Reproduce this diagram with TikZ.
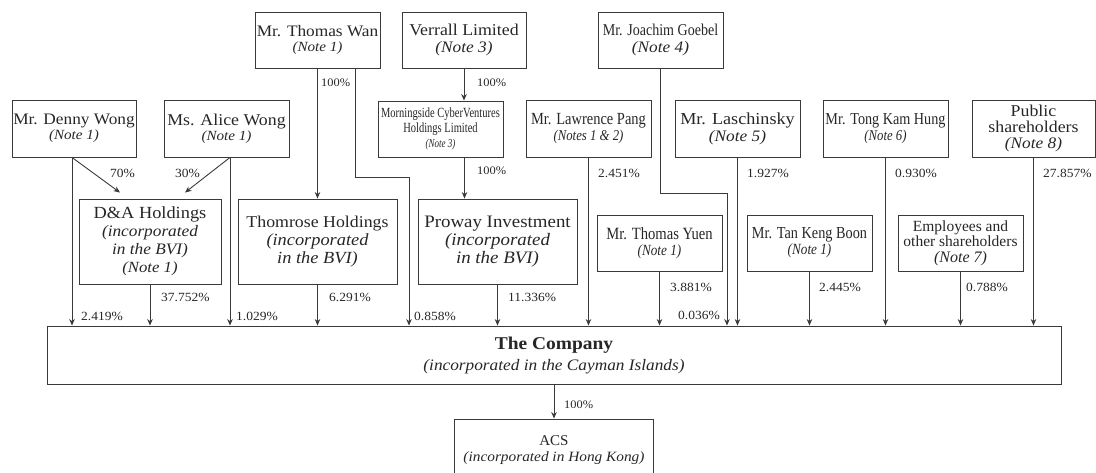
\documentclass[tikz,border=0pt]{standalone}
\usepackage{fontspec}
\setmainfont{Liberation Serif}
\newfontfamily\fwide[FakeStretch=1.08]{Liberation Serif}
\newfontfamily\fcond[FakeStretch=0.85]{Liberation Serif}
\newfontfamily\fcondd[FakeStretch=0.75]{Liberation Serif}
\usetikzlibrary{arrows.meta}
\definecolor{linec}{HTML}{3A3A3A}
\definecolor{textc}{HTML}{262626}
\newcommand{\fs}[2]{\fontsize{#1}{#2}\selectfont}
\tikzset{
  box/.style={draw=linec, line width=0.9pt, rectangle, inner sep=0pt, align=center, text=textc},
  arr/.style={draw=linec, line width=0.9pt, -{Stealth[length=6.5pt,width=5.5pt]}},
  pct/.style={inner sep=0pt, anchor=west, text=textc, font=\fwide\fs{12.5}{14}},
  pcts/.style={pct, font=\fwide\fs{11.5}{13}},
}
\begin{document}
\begin{tikzpicture}[x=1pt,y=-1pt]
\clip (0,0) rectangle (1096,472);
\useasboundingbox (0,0) rectangle (1096,472);

% top row
\node[box, minimum width=125pt, minimum height=56pt, font=\fwide\fs{16}{15}] (twan) at (317.5,40)
  {Mr. Thomas Wan\\{\itshape\fs{14}{15}(Note 1)}};
\node[box, minimum width=124pt, minimum height=56pt, font=\fwide\fs{16.5}{17}] (verrall) at (464,40)
  {Verrall Limited\\{\itshape\fs{16}{17}(Note 3)}};
\node[box, minimum width=125pt, minimum height=56pt, font=\fcond\fs{16.5}{17}] (goebel) at (660.5,40)
  {Mr. Joachim Goebel\\{\fwide\itshape\fs{16}{17}(Note 4)}};

% second row
\node[box, minimum width=124pt, minimum height=57pt, font=\fwide\fs{16}{15}] (denny) at (74,128.5)
  {Mr. Denny Wong\\{\itshape\fs{14}{15}(Note 1)}};
\node[box, minimum width=125pt, minimum height=57pt, font=\fwide\fs{16.5}{15}] (alice) at (226.5,128.5)
  {Ms. Alice Wong\\{\itshape\fs{14}{15}(Note 1)}};
\node[box, minimum width=125pt, minimum height=56pt, font=\fcondd\fs{14}{15}] (morning) at (440.5,129)
  {Morningside CyberVentures\\Holdings Limited\\{\itshape\fs{12}{15}(Note 3)}};
\node[box, minimum width=125pt, minimum height=57pt, font=\fcond\fs{17}{16}] (lawrence) at (588.5,128.5)
  {Mr. Lawrence Pang\\{\itshape\fs{15}{16}(Notes 1 \& 2)}};
\node[box, minimum width=125pt, minimum height=57pt, font=\fwide\fs{16.8}{17}] (lasch) at (737.5,128.5)
  {Mr. Laschinsky\\{\itshape\fs{16}{17}(Note 5)}};
\node[box, minimum width=125pt, minimum height=57pt, font=\fcond\fs{16.7}{16}] (tong) at (885.5,128.5)
  {Mr. Tong Kam Hung\\{\itshape\fs{15}{16}(Note 6)}};
\node[box, minimum width=123pt, minimum height=57pt, font=\fwide\fs{16.5}{16}] (public) at (1033.5,128.5)
  {Public\\shareholders\\{\itshape\fs{16}{16}(Note 8)}};

% middle row
\node[box, minimum width=142pt, minimum height=85pt, font=\fwide\fs{17}{18}] (dna) at (150,241.5)
  {D\&A Holdings\\{\itshape\fs{16}{18}(incorporated}\\{\itshape\fs{16}{18}in the BVI)}\\{\itshape\fs{15.5}{18}(Note 1)}};
\node[box, minimum width=159pt, minimum height=85pt, font=\fwide\fs{16.5}{18}] (thomrose) at (317.5,241.5)
  {Thomrose Holdings\\{\itshape\fs{17}{18}(incorporated}\\{\itshape\fs{17}{18}in the BVI)}};
\node[box, minimum width=159pt, minimum height=85pt, font=\fwide\fs{17.5}{18}] (proway) at (497.5,241.5)
  {Proway Investment\\{\itshape\fs{17.5}{18}(incorporated}\\{\itshape\fs{17.5}{18}in the BVI)}};
\node[box, minimum width=125pt, minimum height=56pt, font=\fcond\fs{17.2}{16}] (tyuen) at (659.5,243)
  {Mr. Thomas Yuen\\{\itshape\fs{15.5}{16}(Note 1)}};
\node[box, minimum width=125pt, minimum height=56pt, font=\fcond\fs{16.8}{16}] (tan) at (809.5,243)
  {Mr. Tan Keng Boon\\{\itshape\fs{15.5}{16}(Note 1)}};
\node[box, minimum width=125pt, minimum height=56pt, font=\fs{15.5}{15.5}] (emp) at (960.5,243)
  {Employees and\\other shareholders\\{\itshape\fs{16}{15.5}(Note 7)}};

% company and ACS
\node[box, minimum width=1014pt, minimum height=58pt, font=\fwide\fs{16}{21}] (company) at (554,355)
  {{\bfseries\fs{18}{21}The Company}\\{\itshape(incorporated in the Cayman Islands)}};
\node[box, minimum width=199pt, minimum height=62pt, font=\fs{15}{16.5}] (acs) at (554,450)
  {ACS\\{\fwide\itshape\fs{14.2}{16.5}(incorporated in Hong Kong)}};

% connectors
\coordinate (dn) at ([xshift=-2]denny.south);
\draw[arr] (dn) -- (dn |- company.north);
\draw[arr] (dn) -- ([xshift=-30,yshift=6]dna.north);
\coordinate (al) at ([xshift=3.5]alice.south);
\draw[arr] (al) -- (al |- company.north);
\draw[arr] (al) -- ([xshift=35,yshift=6]dna.north);
\draw[arr] (dna.south) -- (dna.south |- company.north);

\draw[arr] (twan.south) -- (thomrose.north);
\coordinate (tw2) at ([xshift=37.5]twan.south);
\coordinate (tw3) at (409,177);
\draw[arr] (tw2) -- (tw2 |- tw3) -- (tw3) -- (tw3 |- company.north);
\draw[arr] (thomrose.south) -- (thomrose.south |- company.north);

\draw[arr] (verrall.south) -- (verrall.south |- morning.north);
\coordinate (mo) at ([xshift=24]morning.south);
\draw[arr] (mo) -- (mo |- proway.north);
\draw[arr] (proway.south) -- (proway.south |- company.north);

\draw[arr] (lawrence.south) -- (lawrence.south |- company.north);
\coordinate (gb) at (727,193);
\draw[arr] (goebel.south) -- (goebel.south |- gb) -- (gb) -- (gb |- company.north);
\draw[arr] (tyuen.south) -- (tyuen.south |- company.north);
\draw[arr] (lasch.south) -- (lasch.south |- company.north);
\draw[arr] (tan.south) -- (tan.south |- company.north);
\draw[arr] (tong.south) -- (tong.south |- company.north);
\draw[arr] (emp.south) -- (emp.south |- company.north);
\draw[arr] (public.south) -- (public.south |- company.north);
\draw[arr] (company.south) -- (acs.north);

% percentages
\node[pct] (p70) at (110,173) {70\%};
\node[pct] (p30) at (175,173) {30\%};
\node[pcts] (p100a) at (321,83) {100\%};
\node[pcts] (p100b) at (477,83) {100\%};
\node[pcts] (p100c) at (477,171) {100\%};
\node[pct] (p2451) at (598,173) {2.451\%};
\node[pct] (p1927) at (747,173) {1.927\%};
\node[pct] (p0930) at (895,173) {0.930\%};
\node[pct] (p27857) at (1043,173) {27.857\%};
\node[pct] (p3881) at (670,287) {3.881\%};
\node[pct] (p2445) at (819,287) {2.445\%};
\node[pct] (p0788) at (966,287) {0.788\%};
\node[pct] (p37752) at (161,297) {37.752\%};
\node[pct] (p6291) at (329,297) {6.291\%};
\node[pct] (p11336) at (508,297) {11.336\%};
\node[pct] (p2419) at (81,316) {2.419\%};
\node[pct] (p1029) at (236,316) {1.029\%};
\node[pct] (p0858) at (414,316) {0.858\%};
\node[pct, anchor=east] (p0036) at (720,315) {0.036\%};
\node[pcts] (p100d) at (564,405) {100\%};
\end{tikzpicture}
\end{document}
